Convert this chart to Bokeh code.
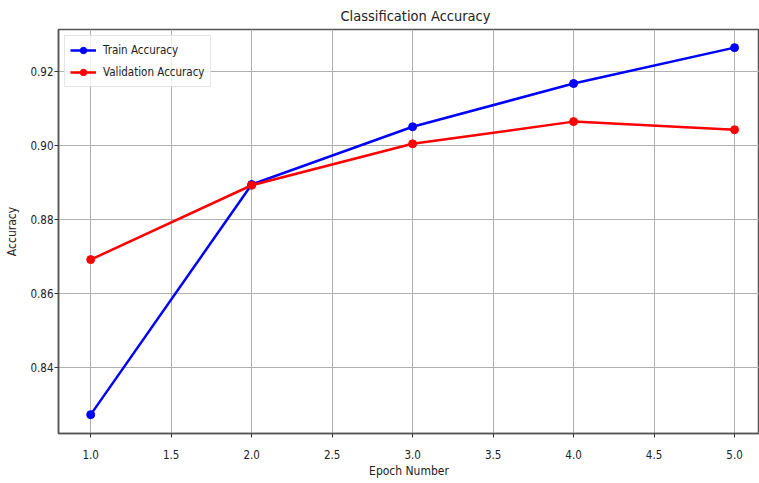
from bokeh.plotting import figure
from bokeh.embed import file_html
from bokeh.resources import INLINE
from bokeh.models import Range1d, FixedTicker, Legend, LegendItem

epochs = [1, 2, 3, 4, 5]
train_acc = [0.8273, 0.8895, 0.9051, 0.9168, 0.9265]
val_acc = [0.8692, 0.8893, 0.9005, 0.9065, 0.9043]
x_ticks = [1.0, 1.5, 2.0, 2.5, 3.0, 3.5, 4.0, 4.5, 5.0]
y_ticks = [0.84, 0.86, 0.88, 0.90, 0.92]

FONT = "DejaVu Sans Condensed, DejaVu Sans"

p = figure(width=759, height=483, output_backend="svg", toolbar_location=None,
           x_range=Range1d(0.8, 5.155), y_range=Range1d(0.8222, 0.9314),
           title="Classification Accuracy",
           min_border_left=58, min_border_right=0, min_border_top=29, min_border_bottom=50)

p.title.align = "left"
p.title.text_font = FONT
p.title.text_font_size = "14.5px"
p.title.text_font_style = "normal"
p.title.text_color = "#222222"
p.title.standoff = 11
p.title.offset = 282

p.outline_line_color = "#555555"
p.outline_line_width = 1.5

for ax in (p.xaxis, p.yaxis):
    ax.axis_line_color = "#555555"
    ax.axis_line_width = 1.5
    ax.major_tick_in = 0
    ax.major_tick_out = 4
    ax.minor_tick_line_color = None
    ax.major_tick_line_color = "#333333"
    ax.major_label_text_font = FONT
    ax.major_label_text_font_size = "11.5px"
    ax.major_label_text_color = "#222222"
    ax.axis_label_text_font = FONT
    ax.axis_label_text_font_size = "12px"
    ax.axis_label_text_font_style = "normal"
    ax.axis_label_text_color = "#222222"

p.xaxis.ticker = FixedTicker(ticks=x_ticks)
p.yaxis.ticker = FixedTicker(ticks=y_ticks)
p.xaxis.major_label_overrides = {t: f"{t:.1f}" for t in x_ticks}
p.yaxis.major_label_overrides = {t: f"{t:.2f}" for t in y_ticks}
p.xaxis.axis_label = "Epoch Number"
p.yaxis.axis_label = "Accuracy"
p.xaxis.major_label_standoff = 12
p.xaxis.axis_label_standoff = 2
p.yaxis.major_label_standoff = 1
p.yaxis.axis_label_standoff = 8

p.xgrid.grid_line_color = "#b0b0b0"
p.ygrid.grid_line_color = "#b0b0b0"
p.xgrid.grid_line_width = 1
p.ygrid.grid_line_width = 1

l1 = p.line(epochs, train_acc, line_color="blue", line_width=2.5)
c1 = p.scatter(epochs, train_acc, size=8, color="blue")
l2 = p.line(epochs, val_acc, line_color="red", line_width=2.5)
c2 = p.scatter(epochs, val_acc, size=8, color="red")

legend = Legend(items=[LegendItem(label="Train Accuracy", renderers=[l1, c1]),
                       LegendItem(label="Validation Accuracy", renderers=[l2, c2])],
                location="top_left")
legend.label_text_font = FONT
legend.label_text_font_size = "11.5px"
legend.label_text_color = "#222222"
legend.border_line_color = "#cccccc"
legend.border_line_width = 1
legend.background_fill_alpha = 0.8
legend.glyph_width = 26
legend.glyph_height = 16
legend.label_height = 18
legend.spacing = 4
legend.padding = 5
legend.margin = 6
legend.label_standoff = 7
p.add_layout(legend)

open("out.html", "w").write(file_html(p, INLINE))
